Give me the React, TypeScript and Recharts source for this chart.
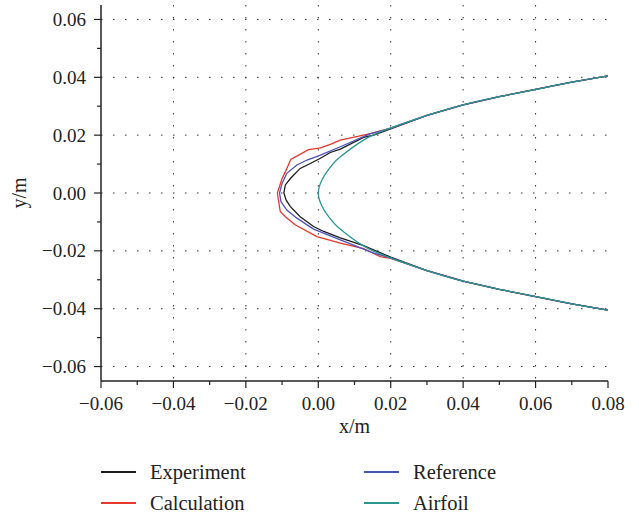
import { CartesianGrid, Legend, Line, LineChart, XAxis, YAxis } from 'recharts';

// axis ticks (odd ones are minor, unlabeled)
const xTicks = [-0.06, -0.05, -0.04, -0.03, -0.02, -0.01, 0, 0.01, 0.02, 0.03, 0.04, 0.05, 0.06, 0.07, 0.08];
const yTicks = [-0.06, -0.05, -0.04, -0.03, -0.02, -0.01, 0, 0.01, 0.02, 0.03, 0.04, 0.05, 0.06];
const xGrid = [-0.04, -0.02, 0, 0.02, 0.04, 0.06];
const yGrid = [-0.06, -0.04, -0.02, 0, 0.02, 0.04, 0.06];

// shared rear part of the profile (x >= 0.03)
const tailX = [0.08, 0.07, 0.06, 0.05, 0.04, 0.03];
const tailUpperY = [0.0405, 0.0383, 0.0358, 0.0333, 0.0305, 0.0268];
const tailLowerY = [-0.0405, -0.0383, -0.0358, -0.0333, -0.0305, -0.0268];

// leading edge, upper -> lower
const expNoseX = [0.02, 0.0153, 0.0125, 0.0061, 0.0033, 0.0006, -0.0022, -0.005, -0.0077, -0.0091, -0.0095, -0.0089, -0.0077, -0.005, -0.0013, 0.0015, 0.0061, 0.0125, 0.02];
const expNoseY = [0.0222, 0.02, 0.0192, 0.0152, 0.014, 0.012, 0.0102, 0.0085, 0.005, 0.0028, 0, -0.0024, -0.0047, -0.0082, -0.0116, -0.0133, -0.0155, -0.0182, -0.0222];

const calcNoseX = [0.02, 0.0144, 0.0061, 0.0033, 0.0006, -0.0027, -0.0076, -0.0091, -0.01, -0.0113, -0.0105, -0.0091, -0.0064, -0.0004, 0.0061, 0.0125, 0.0171, 0.02];
const calcNoseY = [0.0224, 0.0205, 0.0183, 0.0168, 0.0156, 0.015, 0.0116, 0.0073, 0.005, 0, -0.0064, -0.0082, -0.011, -0.0151, -0.0173, -0.0192, -0.022, -0.0226];

const refNoseX = [0.02, 0.0144, 0.0061, 0.0006, -0.0031, -0.0059, -0.0087, -0.01, -0.0107, -0.0103, -0.0087, -0.0059, -0.0013, 0.0061, 0.0153, 0.02];
const refNoseY = [0.0223, 0.0205, 0.016, 0.0131, 0.0114, 0.0097, 0.0068, 0.0033, 0, -0.003, -0.0059, -0.0087, -0.0125, -0.0162, -0.0208, -0.0224];

const foilNoseX = [0.02, 0.0125, 0.0061, 0.004, 0.0024, 0.001, 0, 0.001, 0.0024, 0.004, 0.0061, 0.0125, 0.02];
const foilNoseY = [0.0225, 0.0183, 0.0125, 0.01, 0.0074, 0.0045, 0, -0.0045, -0.0074, -0.01, -0.0125, -0.0183, -0.0225];

const build = (nx: number[], ny: number[]) => [
  ...tailX.map((x, i) => ({ x, y: tailUpperY[i] })),
  ...nx.map((x, i) => ({ x, y: ny[i] })),
  ...tailX.map((x, i) => ({ x, y: tailLowerY[i] })).reverse(),
];

const series = [
  { name: 'Experiment', color: '#1c1c1c', data: build(expNoseX, expNoseY) },
  { name: 'Calculation', color: '#e5372c', data: build(calcNoseX, calcNoseY) },
  { name: 'Reference', color: '#4d52b6', data: build(refNoseX, refNoseY) },
  { name: 'Airfoil', color: '#2a9690', data: build(foilNoseX, foilNoseY) },
];

const FONT = '"Liberation Serif", "DejaVu Serif", serif';
const TICK = 7;
const MINOR = 4;
const GAP = 8;
const isMajor = (v: number) => Math.round(v * 100) % 2 === 0;
const fmt = (v: number) => (v < -1e-9 ? '\u2212' + Math.abs(v).toFixed(2) : Math.abs(v).toFixed(2));

const XTick = (props: any) => {
  const { x, y, payload } = props;
  const v = payload.value;
  const axisY = y - TICK - GAP;
  const major = isMajor(v);
  return (
    <g>
      <line x1={x} x2={x} y1={axisY} y2={axisY + (major ? TICK : MINOR)} stroke="#222" strokeWidth={1.2} />
      {major && (
        <text x={x} y={axisY + TICK + GAP} dy="0.75em" textAnchor="middle" fontFamily={FONT} fontSize={19} fill="#222">
          {fmt(v)}
        </text>
      )}
    </g>
  );
};

const YTick = (props: any) => {
  const { x, y, payload } = props;
  const v = payload.value;
  const axisX = x + TICK + GAP;
  const major = isMajor(v);
  return (
    <g>
      <line x1={axisX} x2={axisX - (major ? TICK : MINOR)} y1={y} y2={y} stroke="#222" strokeWidth={1.2} />
      {major && (
        <text x={x} y={y} dy="0.35em" textAnchor="end" fontFamily={FONT} fontSize={19} fill="#222">
          {fmt(v)}
        </text>
      )}
    </g>
  );
};

const legendOrder = ['Experiment', 'Reference', 'Calculation', 'Airfoil'];

const renderLegend = () => (
  <div style={{ display: 'grid', gridTemplateColumns: '263px 200px', rowGap: 7, paddingLeft: 101, fontFamily: FONT, fontSize: 20.5, color: '#222' }}>
    {legendOrder.map((n) => {
      const s = series.find((d) => d.name === n)!;
      return (
        <div key={n} style={{ display: 'flex', alignItems: 'center', height: 24 }}>
          <span style={{ display: 'inline-block', width: 35, height: 1.5, background: s.color, marginRight: 14 }} />
          <span>{n}</span>
        </div>
      );
    })}
  </div>
);

export default function App() {
  return (
    <div style={{ position: 'absolute', left: 0, top: 0, background: '#fff' }}>
      <LineChart width={639} height={517} margin={{ top: 5, right: 31, left: 0, bottom: 0 }}>
        <CartesianGrid
          horizontal
          vertical
          horizontalValues={yGrid}
          verticalValues={xGrid}
          stroke="#333"
          strokeDasharray="1.5 10.5"
          strokeWidth={1}
        />
        <XAxis
          type="number"
          dataKey="x"
          domain={[-0.06, 0.08]}
          ticks={xTicks}
          interval={0}
          allowDataOverflow
          height={136}
          tickLine={false}
          tickSize={TICK}
          tickMargin={GAP}
          axisLine={{ stroke: '#222', strokeWidth: 1.5 }}
          tick={<XTick />}
          label={{
            content: (p: any) => (
              <text x={p.viewBox.x + p.viewBox.width / 2} y={p.viewBox.y + 52} textAnchor="middle" fontFamily={FONT} fontSize={20} fill="#222">
                x/m
              </text>
            ),
          }}
        />
        <XAxis xAxisId="top" orientation="top" type="number" domain={[-0.06, 0.08]} height={0} tick={false} tickLine={false} axisLine={{ stroke: '#444', strokeWidth: 1.5 }} />
        <YAxis
          type="number"
          dataKey="y"
          domain={[-0.065, 0.065]}
          ticks={yTicks}
          interval={0}
          allowDataOverflow
          width={101}
          tickLine={false}
          tickSize={TICK}
          tickMargin={GAP}
          axisLine={{ stroke: '#222', strokeWidth: 1.5 }}
          tick={<YTick />}
          label={{
            content: (p: any) => (
              <text
                x={p.viewBox.x + 19}
                y={p.viewBox.y + p.viewBox.height / 2}
                transform={`rotate(-90 ${p.viewBox.x + 19} ${p.viewBox.y + p.viewBox.height / 2})`}
                textAnchor="middle"
                dy="0.35em"
                fontFamily={FONT}
                fontSize={20}
                fill="#222"
              >
                y/m
              </text>
            ),
          }}
        />
        <YAxis yAxisId="right" orientation="right" type="number" domain={[-0.065, 0.065]} width={0} tick={false} tickLine={false} axisLine={{ stroke: '#444', strokeWidth: 1.5 }} />
        <Legend
          content={renderLegend}
          layout="horizontal"
          verticalAlign="middle"
          align="center"
          wrapperStyle={{ left: 0, top: 460, width: 639 }}
        />
        {series.map((s) => (
          <Line
            key={s.name}
            name={s.name}
            data={s.data}
            dataKey="y"
            type={s.name === 'Airfoil' ? 'natural' : 'linear'}
            stroke={s.color}
            strokeWidth={1.3}
            dot={false}
            activeDot={false}
            isAnimationActive={false}
          />
        ))}
      </LineChart>
    </div>
  );
}
